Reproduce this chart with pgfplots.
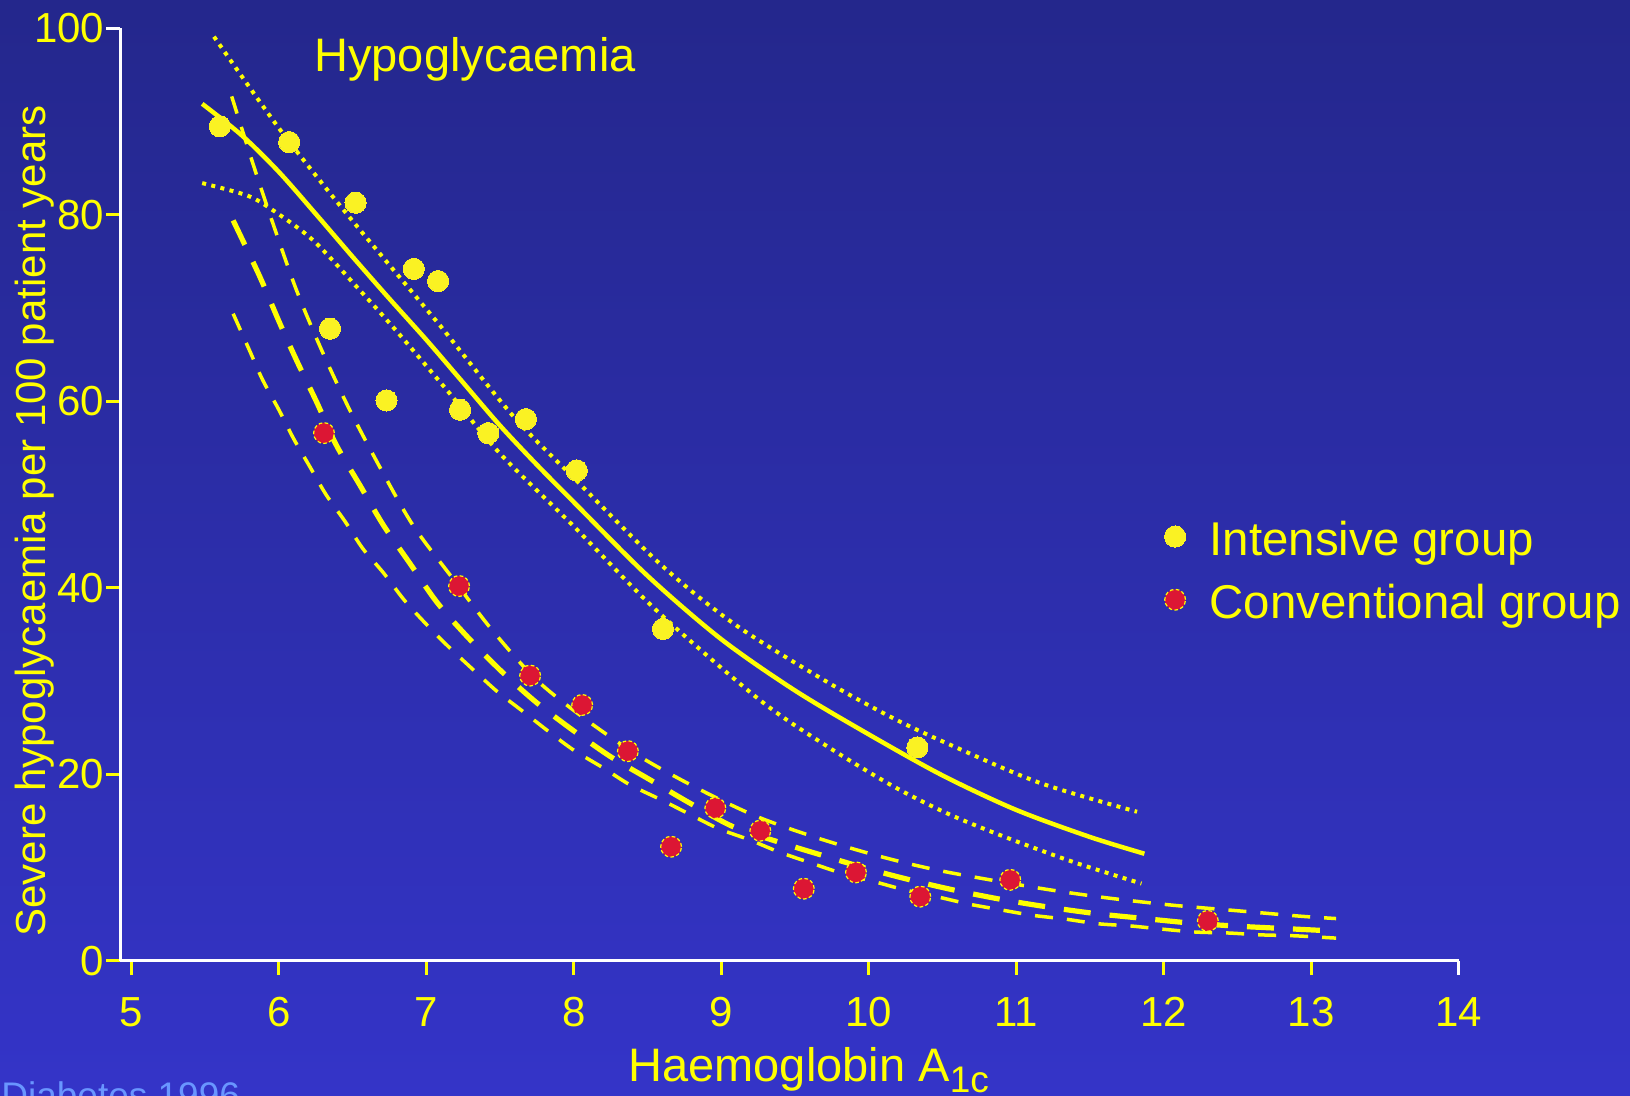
\documentclass[border=0pt]{standalone}
\usepackage{pgfplots}
\pgfplotsset{compat=1.18}
\usepackage{fontspec}
\setmainfont{Liberation Sans}
\definecolor{bgtop}{RGB}{36,39,140}
\definecolor{bgbot}{RGB}{52,52,200}
\definecolor{ylw}{RGB}{255,255,0}
\definecolor{dotylw}{RGB}{250,242,35}
\definecolor{redpt}{RGB}{220,22,52}
\definecolor{citeblue}{RGB}{105,150,255}
\begin{document}
\begin{tikzpicture}
\useasboundingbox (0,0) rectangle (815pt,548pt);
\clip (0,0) rectangle (815pt,548pt);
\shade[top color=bgtop, bottom color=bgbot] (0,0) rectangle (815pt,548pt);
\begin{axis}[
  at={(60.25pt,67.5pt)}, anchor=south west,
  scale only axis, width=669pt, height=466.35pt,
  xmin=4.926, xmax=14, ymin=0, ymax=100,
  axis x line=bottom, axis y line=left,
  axis line style={white, line width=1.5pt, -},
  xtick={5,...,13}, extra x ticks={14},
  ytick={0,20,...,80}, extra y ticks={100},
  tick align=outside, major tick length=7pt,
  tick style={ylw, line width=1.5pt},
  extra x tick style={tick style={white, line width=1.5pt}},
  extra y tick style={tick style={white, line width=1.5pt}},
  ticklabel style={font=\fontsize{21pt}{21pt}\selectfont, text=ylw},
  /pgf/number format/assume math mode=true,
  xticklabel style={anchor=north, inner sep=0pt, yshift=-10.9pt},
  yticklabel style={anchor=east, inner sep=0pt, xshift=-1.0pt},
  legend style={at={(0.780,0.4699)}, anchor=north west, draw=none, fill=none,
    inner sep=0pt, row sep=10.6pt, column sep=12pt,
    font=\fontsize{23.7pt}{23.7pt}\selectfont, text=ylw,
    nodes={inner sep=0pt, text height=16pt, text depth=5pt}},
  legend cell align=left,
  legend image code/.code={\draw[#1] plot coordinates {(0pt,3.8pt)};},
]
\addplot[only marks, mark=*, mark size=5.3pt, mark options={fill=dotylw, draw=dotylw, line width=0pt}] coordinates {
(5.60,89.5)(6.07,87.8)(6.52,81.3)(6.915,74.2)(7.08,72.9)(6.347,67.8)(6.73,60.1)
(7.229,59.1)(7.42,56.6)(7.675,58.1)(8.02,52.6)(8.605,35.6)(10.33,22.9)};
\addlegendentry{Intensive group}
\addplot[only marks, mark=*, mark size=5.2pt, mark options={fill=redpt, draw=ylw, line width=0.6pt, dash pattern=on 1.8pt off 1.2pt}] coordinates {
(6.306,56.6)(7.222,40.2)(7.704,30.6)(8.057,27.45)(8.367,22.5)(8.66,12.25)(8.96,16.4)
(9.265,13.97)(9.56,7.75)(9.914,9.5)(10.35,6.9)(10.96,8.7)(12.30,4.3)};
\addlegendentry{Conventional group}
% intensive fit
\addplot[ylw, line width=2.25pt, smooth, tension=0.5, forget plot] coordinates {
(5.48,91.9)(5.75,88.5)(6.0,84.6)(6.25,80.1)(6.5,75.5)(6.75,71.0)(7.0,66.6)(7.25,62.0)
(7.5,57.4)(7.75,53.2)(8.0,49.2)(8.5,41.3)(9.0,34.5)(9.5,29.0)(10.0,24.3)(10.5,19.9)
(11.0,16.2)(11.5,13.3)(11.87,11.5)};
\addplot[ylw, line width=2pt, dash pattern=on 2pt off 2.7pt, smooth, tension=0.5, forget plot] coordinates {
(5.56,99.1)(6.0,89.3)(6.44,80.5)(6.91,71.6)(7.1,68.0)(7.59,58.4)(8.0,51.8)(8.59,42.5)
(9.1,36.0)(9.72,29.9)(10.17,26.0)(10.55,23.2)(11.16,19.1)(11.82,16.0)};
\addplot[ylw, line width=2pt, dash pattern=on 2pt off 2.7pt, smooth, tension=0.5, forget plot] coordinates {
(5.48,83.4)(5.78,82.1)(5.94,80.7)(6.23,77.3)(6.55,71.9)(6.8,67.5)(7.14,61.2)(7.5,54.4)
(8.0,46.6)(8.56,37.6)(9.26,28.0)(9.72,23.0)(10.17,18.7)(10.55,15.7)(10.94,13.2)
(11.39,10.6)(11.85,8.3)};
% conventional fit
\addplot[ylw, line width=2.6pt, dash pattern=on 13.5pt off 9.5pt, smooth, tension=0.5, forget plot] coordinates {
(5.69,79.4)(5.87,73.4)(6.0,68.6)(6.12,64.4)(6.26,59.8)(6.39,55.3)(6.55,51.0)(6.71,46.7)
(6.89,42.6)(7.07,38.5)(7.27,34.9)(7.5,31.2)(7.74,27.8)(7.98,24.9)(8.25,21.9)(8.52,19.4)
(8.79,16.9)(9.08,14.4)(9.38,12.8)(9.67,11.4)(9.99,9.9)(10.28,8.7)(10.58,7.6)(10.9,6.6)
(11.21,5.8)(11.53,5.1)(11.84,4.6)(12.16,4.1)(12.48,3.75)(12.79,3.5)(13.17,3.2)};
\addplot[ylw, line width=1.75pt, dash pattern=on 9pt off 7pt, smooth, tension=0.5, forget plot] coordinates {
(5.68,92.7)(5.83,85.2)(5.97,78.6)(6.12,71.9)(6.29,65.5)(6.48,59.1)(6.69,52.8)(6.91,46.7)
(7.17,41.2)(7.44,35.6)(7.75,30.1)(8.09,25.8)(8.45,21.9)(8.84,18.5)(9.24,15.5)(9.65,13.2)
(10.08,11.2)(10.51,9.6)(11.16,7.8)(11.6,6.8)(12.05,6.0)(12.49,5.4)(12.93,4.8)(13.17,4.55)};
\addplot[ylw, line width=1.75pt, dash pattern=on 9pt off 7pt, smooth, tension=0.5, forget plot] coordinates {
(5.69,69.4)(5.8,65.5)(5.89,62.3)(6.0,59.1)(6.1,56.0)(6.21,53.0)(6.32,50.0)(6.45,47.1)
(6.57,44.2)(6.71,41.6)(6.85,38.7)(7.0,36.1)(7.15,33.7)(7.32,31.2)(7.48,28.9)(7.66,26.7)
(7.83,24.6)(8.0,22.6)(8.2,20.7)(8.38,18.9)(8.59,17.3)(8.79,15.7)(8.98,14.2)(9.19,13.0)
(9.39,11.7)(9.61,10.5)(9.82,9.4)(10.04,8.5)(10.25,7.6)(10.46,6.9)(10.68,6.1)(10.89,5.5)
(11.11,4.9)(11.33,4.5)(11.55,4.0)(11.78,3.75)(12.0,3.4)(12.22,3.1)(12.44,3.0)(12.66,2.8)
(12.89,2.7)(13.17,2.45)};
\end{axis}
\node[anchor=base west, inner sep=0pt, text=ylw, font=\fontsize{23.5pt}{23.5pt}\selectfont] at (157pt,512.15pt) {Hypoglycaemia};
\node[anchor=base west, inner sep=0pt, text=ylw, font=\fontsize{23.5pt}{23.5pt}\selectfont] at (314pt,7.15pt) {Haemoglobin A\raisebox{-5.6pt}{\fontsize{18.5pt}{18.5pt}\selectfont 1c}};
\node[rotate=90, anchor=base, inner sep=0pt, text=ylw, font=\fontsize{21pt}{21pt}\selectfont] at (22.5pt,287.5pt) {Severe hypoglycaemia per 100 patient years};
\node[anchor=base west, inner sep=0pt, text=citeblue, font=\fontsize{18.5pt}{18.5pt}\selectfont] at (0.5pt,-6.1pt) {Diabetes 1996};
\end{tikzpicture}
\end{document}
